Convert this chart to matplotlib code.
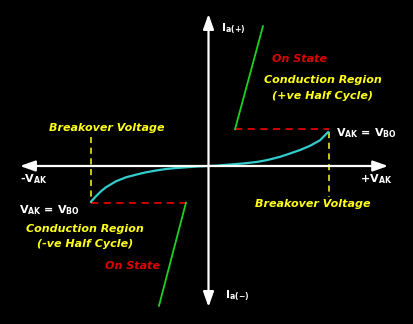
import matplotlib
matplotlib.use("Agg")
import matplotlib.pyplot as plt

# ---- data (V in units of V_BO, I in units of the breakover current) ----
fwd_v = [0.0, 0.07, 0.137, 0.20, 0.303, 0.40, 0.469, 0.51, 0.593, 0.676,
         0.759, 0.842, 0.925, 0.994]
fwd_i = [0.0, 0.01, 0.03, 0.045, 0.074, 0.11, 0.15, 0.18, 0.25, 0.34,
         0.435, 0.55, 0.70, 0.93]
rev_v = [0.0, -0.09, -0.181, -0.265, -0.347, -0.43, -0.519, -0.602, -0.685,
         -0.768, -0.851, -0.892, -0.934, -0.975]
rev_i = [0.0, -0.012, -0.035, -0.055, -0.08, -0.12, -0.172, -0.237, -0.308,
         -0.417, -0.58, -0.689, -0.826, -0.97]
on_pos_v = [0.22, 0.452]
on_pos_i = [1.0, 3.81]
on_neg_v = [-0.187, -0.411]
on_neg_i = [-1.0, -3.81]
hold_pos_v = [0.22, 1.0]
hold_pos_i = [1.0, 1.0]
hold_neg_v = [-0.975, -0.187]
hold_neg_i = [-1.0, -1.0]
bo_pos_v = [1.0, 1.0]
bo_pos_i = [0.93, -0.845]
bo_neg_v = [-0.973, -0.973]
bo_neg_i = [0.79, -1.0]
axis_v = [-1.564, 1.49]
axis_i = [-3.84, 4.14]

YEL = '#ffff1a'
RED = '#e00000'
GRN = '#1fd21f'
CYN = '#33cccc'
W = 414
H = 324

fig = plt.figure(figsize=(4.14, 3.24), dpi=100, facecolor='black')
ax = fig.add_axes([0, 0, 1, 1])
ax.set_facecolor('black')
ax.set_xlim(-1.730, 1.705)
ax.set_ylim(-4.305, 4.523)
ax.axis('off')

# axes with arrows
ax.annotate('', xy=(axis_v[1], 0), xytext=(axis_v[0], 0),
            arrowprops=dict(arrowstyle='<|-|>,head_length=0.9,head_width=0.32',
                            color='white', lw=1.6, shrinkA=0, shrinkB=0))
ax.annotate('', xy=(0, axis_i[1]), xytext=(0, axis_i[0]),
            arrowprops=dict(arrowstyle='<|-|>,head_length=0.9,head_width=0.32',
                            color='white', lw=1.6, shrinkA=0, shrinkB=0))

# dashed lines
ax.plot(hold_pos_v, hold_pos_i, color=RED, lw=1.3, ls=(0, (4, 3)))
ax.plot(hold_neg_v, hold_neg_i, color=RED, lw=1.3, ls=(0, (4, 3)))
ax.plot(bo_pos_v, bo_pos_i, color=YEL, lw=1.1, ls=(0, (4, 3)))
ax.plot(bo_neg_v, bo_neg_i, color=YEL, lw=1.1, ls=(0, (4, 3)))

# characteristic curves
ax.plot(fwd_v, fwd_i, color=CYN, lw=1.6, solid_capstyle='round',
        solid_joinstyle='round')
ax.plot(rev_v, rev_i, color=CYN, lw=1.6, solid_capstyle='round',
        solid_joinstyle='round')
ax.plot(on_pos_v, on_pos_i, color=GRN, lw=1.3)
ax.plot(on_neg_v, on_neg_i, color=GRN, lw=1.3)


def ftext(x, y, s, color, ha='left', italic=False, size=8):
    fig.text(x / W, 1 - y / H, s, color=color, ha=ha, va='center',
             fontsize=size, fontweight='bold',
             fontstyle='italic' if italic else 'normal',
             family='DejaVu Sans')


eq = r'$\mathbf{V}_{\mathbf{AK}}$ = $\mathbf{V}_{\mathbf{BO}}$'
ftext(221, 29, r'$\mathbf{I}_{\mathbf{a(+)}}$', 'white')
ftext(225, 296, r'$\mathbf{I}_{\mathbf{a(-)}}$', 'white')
ftext(20, 179, r'-$\mathbf{V}_{\mathbf{AK}}$', 'white')
ftext(360, 179, r'+$\mathbf{V}_{\mathbf{AK}}$', 'white')
ftext(336, 133, eq, 'white')
ftext(19, 210, eq, 'white')

ftext(300, 59, 'On State', RED, ha='center', italic=True)
ftext(323, 80, 'Conduction Region', YEL, ha='center', italic=True)
ftext(323, 96, '(+ve Half Cycle)', YEL, ha='center', italic=True)
ftext(107, 128, 'Breakover Voltage', YEL, ha='center', italic=True)
ftext(313, 204, 'Breakover Voltage', YEL, ha='center', italic=True)
ftext(85, 229, 'Conduction Region', YEL, ha='center', italic=True)
ftext(85, 244, '(-ve Half Cycle)', YEL, ha='center', italic=True)
ftext(133, 266, 'On State', RED, ha='center', italic=True)

fig.savefig('out.png', dpi=100, facecolor='black')
